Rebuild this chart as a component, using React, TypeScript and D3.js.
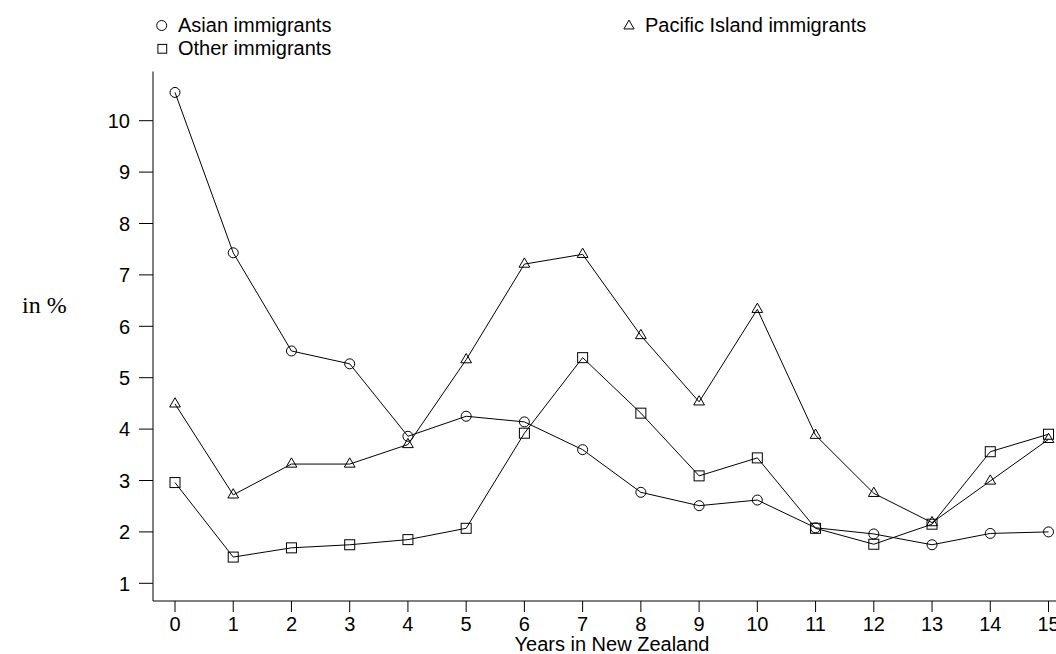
import React from "react";
import * as d3 from "d3";

// Years since arrival and share (in %) for each immigrant group
const years = [0, 1, 2, 3, 4, 5, 6, 7, 8, 9, 10, 11, 12, 13, 14, 15];
const asian = [10.55, 7.43, 5.52, 5.27, 3.86, 4.25, 4.14, 3.6, 2.77, 2.51, 2.62, 2.08, 1.96, 1.75, 1.97, 2.0];
const pacific = [4.49, 2.72, 3.32, 3.32, 3.7, 5.35, 7.21, 7.4, 5.82, 4.53, 6.33, 3.88, 2.75, 2.18, 2.99, 3.8];
const other = [2.96, 1.51, 1.69, 1.75, 1.85, 2.07, 3.92, 5.39, 4.31, 3.09, 3.44, 2.07, 1.76, 2.15, 3.56, 3.9];
const yTicks = [1, 2, 3, 4, 5, 6, 7, 8, 9, 10];
const xTicks = years;

const W = 1056;
const H = 654;
const FONT = "'Liberation Sans', Arial, Helvetica, sans-serif";

type Shape = "circle" | "square" | "triangle";

function Marker({ shape, x, y, size = 1 }: { shape: Shape; x: number; y: number; size?: number }) {
  if (shape === "circle") {
    return <circle cx={x} cy={y} r={5 * size} fill="none" stroke="#000" strokeWidth={1} />;
  }
  if (shape === "square") {
    const s = 10 * size;
    return <rect x={x - s / 2} y={y - s / 2} width={s} height={s} fill="none" stroke="#000" strokeWidth={1} />;
  }
  const r = 6.2 * size;
  const path = `M${x},${y - r}L${x + 0.866 * r},${y + r / 2}L${x - 0.866 * r},${y + r / 2}Z`;
  return <path d={path} fill="none" stroke="#000" strokeWidth={1} />;
}

export default function App() {
  const x = d3.scaleLinear().domain([0, 15]).range([175, 1048.5]);
  const y = d3.scaleLinear().domain([1, 10]).range([583.3, 120.7]);
  const axisLeft = 153;
  const axisBottom = 601;
  const axisTop = 71.5;

  const line = d3
    .line<number>()
    .x((_, i) => x(years[i]))
    .y((v) => y(v));

  const series: { name: string; values: number[]; shape: Shape }[] = [
    { name: "Asian immigrants", values: asian, shape: "circle" },
    { name: "Pacific Island immigrants", values: pacific, shape: "triangle" },
    { name: "Other immigrants", values: other, shape: "square" },
  ];

  return (
    <svg
      width={W}
      height={H}
      style={{ position: "absolute", left: 0, top: 0, background: "#fff" }}
      fontFamily={FONT}
    >
      {/* legend */}
      <g fontSize={20} fill="#000">
        <Marker shape="circle" x={161.7} y={25.5} />
        <text x={178} y={31.5}>Asian immigrants</text>
        <Marker shape="square" x={162.3} y={48.8} size={0.88} />
        <text x={178} y={54.5}>Other immigrants</text>
        <Marker shape="triangle" x={629} y={26} size={0.95} />
        <text x={645} y={31.5}>Pacific Island immigrants</text>
      </g>

      {/* axes */}
      <line x1={axisLeft} x2={axisLeft} y1={axisTop} y2={axisBottom} stroke="#000" strokeWidth={1} />
      <line x1={axisLeft} x2={W} y1={axisBottom} y2={axisBottom} stroke="#000" strokeWidth={1} />
      {yTicks.map((t) => (
        <g key={"y" + t}>
          <line x1={axisLeft - 14} x2={axisLeft} y1={y(t)} y2={y(t)} stroke="#000" strokeWidth={1} />
          <text x={130} y={y(t)} dy="0.36em" textAnchor="end" fontSize={20}>
            {t}
          </text>
        </g>
      ))}
      {xTicks.map((t) => (
        <g key={"x" + t}>
          <line x1={x(t)} x2={x(t)} y1={axisBottom} y2={axisBottom + 11} stroke="#000" strokeWidth={1} />
          <text x={x(t)} y={631} textAnchor="middle" fontSize={20}>
            {t}
          </text>
        </g>
      ))}
      <text x={612} y={651} textAnchor="middle" fontSize={20}>
        Years in New Zealand
      </text>
      <text x={22} y={313} fontFamily="'Liberation Serif', 'Times New Roman', serif" fontSize={24}>
        in %
      </text>

      {/* series lines and markers */}
      {series.map((s) => (
        <g key={s.name}>
          <path d={line(s.values) ?? ""} fill="none" stroke="#000" strokeWidth={1} />
          {s.values.map((v, i) => (
            <Marker key={i} shape={s.shape} x={x(years[i])} y={y(v)} />
          ))}
        </g>
      ))}
    </svg>
  );
}
